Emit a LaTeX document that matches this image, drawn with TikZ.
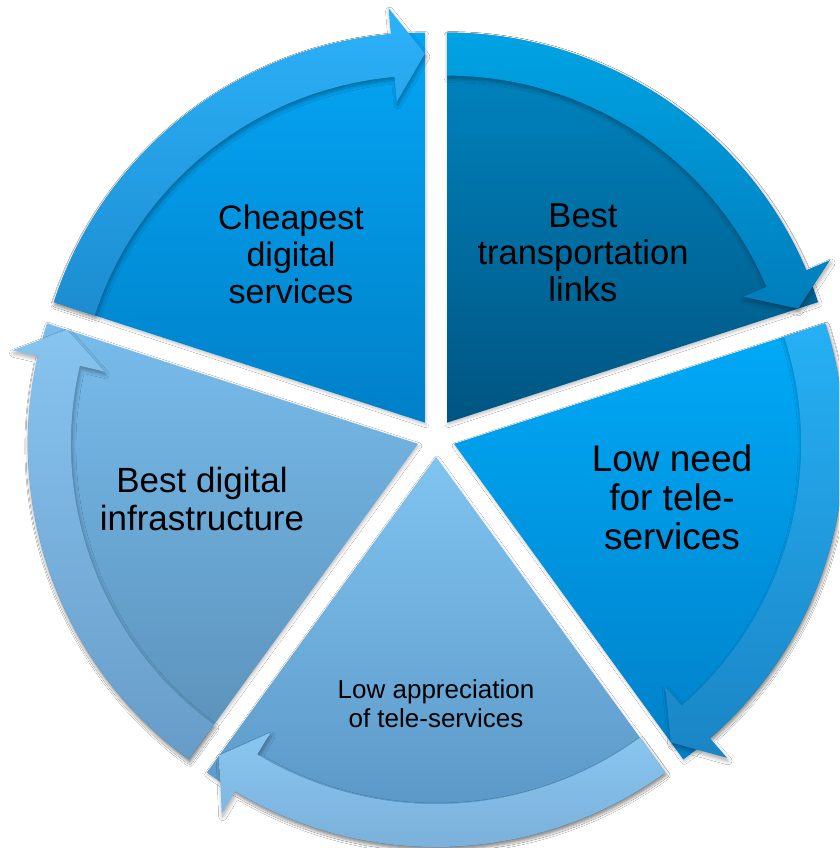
\documentclass[tikz,border=0pt]{standalone}
\usepackage{fontspec}
\setmainfont{Liberation Sans}
\usetikzlibrary{shadows.blur}
\definecolor{tlA}{RGB}{5,166,245}
\definecolor{tlB}{RGB}{0,128,200}
\definecolor{tlC}{RGB}{44,178,250}
\definecolor{tlD}{RGB}{28,140,208}
\definecolor{trA}{RGB}{0,135,195}
\definecolor{trB}{RGB}{0,85,130}
\definecolor{trC}{RGB}{0,163,228}
\definecolor{trD}{RGB}{0,125,188}
\definecolor{rtA}{RGB}{0,170,248}
\definecolor{rtB}{RGB}{0,128,200}
\definecolor{rtC}{RGB}{38,176,245}
\definecolor{rtD}{RGB}{26,133,197}
\definecolor{btA}{RGB}{128,196,240}
\definecolor{btB}{RGB}{85,144,192}
\definecolor{btC}{RGB}{136,198,240}
\definecolor{btD}{RGB}{120,172,214}
\definecolor{lfA}{RGB}{120,188,236}
\definecolor{lfB}{RGB}{90,144,184}
\definecolor{lfC}{RGB}{136,196,240}
\definecolor{lfD}{RGB}{104,156,200}
\newcommand\cycpiece[5]{%
  \begin{scope}[shift={(C)}, shift={(#1-36:19pt)}]
    \path[sectorpiece, top color=#2, bottom color=#3]
      (0,0) -- (#1:390pt) arc[start angle=#1, end angle=#1-72, radius=390pt] -- cycle;
    \path[bandpiece, top color=#4, bottom color=#5]
      (#1:390pt) arc[start angle=#1, end angle=#1-67, radius=390pt]
      -- (#1-67:416pt) -- (#1-72:369pt) -- (#1-67:322pt) -- (#1-67:347pt)
      arc[start angle=#1-67, end angle=#1, radius=347pt] -- cycle;
  \end{scope}}
\begin{document}
\begin{tikzpicture}[x=1pt,y=1pt,
  sectorpiece/.style={draw=none, blur shadow={shadow xshift=1pt, shadow yshift=-2pt, shadow blur radius=3pt, shadow blur steps=5, shadow opacity=25}},
  bandpiece/.style={draw=none, blur shadow={shadow xshift=1pt, shadow yshift=-3pt, shadow blur radius=4pt, shadow blur steps=6, shadow opacity=35}},
  lbl/.style={align=center, inner sep=0pt, text=black}]
\clip (0,0) rectangle (839,848);
\fill[white] (0,0) rectangle (839,848);
\coordinate (C) at (436,410);
\cycpiece{162}{tlA}{tlB}{tlC}{tlD}
\cycpiece{90}{trA}{trB}{trC}{trD}
\cycpiece{18}{rtA}{rtB}{rtC}{rtD}
\cycpiece{-54}{btA}{btB}{btC}{btD}
\cycpiece{-126}{lfA}{lfB}{lfC}{lfD}
\node[lbl, font=\fontsize{34}{37}\selectfont] (cheap) at (291,594) {Cheapest\\digital\\services};
\node[lbl, font=\fontsize{34.5}{37}\selectfont] (trans) at (583,595) {Best\\transportation\\links};
\node[lbl, font=\fontsize{37}{39}\selectfont] (need) at (672,350.5) {Low need\\for tele-\\services};
\node[lbl, font=\fontsize{35}{38}\selectfont] (infra) at (202,349.5) {Best digital\\infrastructure};
\node[lbl, font=\fontsize{26}{29}\selectfont] (appr) at (436,144.5) {Low appreciation\\of tele-services};
\end{tikzpicture}
\end{document}
